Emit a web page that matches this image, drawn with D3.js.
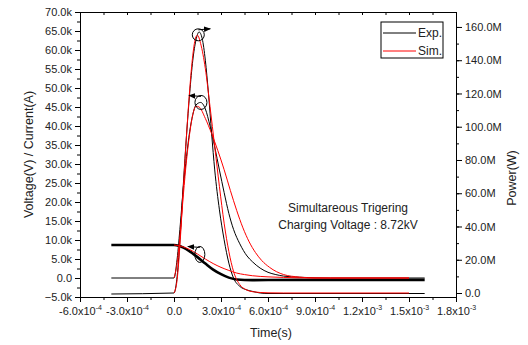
<!DOCTYPE html>
<html>
<head>
<meta charset="utf-8">
<script src="https://cdn.jsdelivr.net/npm/d3@7"></script>
<style>
  body { margin: 0; background: #fff; }
  svg { font-family: "Liberation Sans", Arial, sans-serif; }
</style>
</head>
<body>
<script>
// 时间单位 1e-4 s
const T = 1e-4;

// 电压 (V)
const voltExpT = [-4, 0, 0.3, 0.6, 1.0, 1.5, 2.0, 2.5, 3.0, 3.5, 4.0, 5.0, 8.0, 12, 16];
const voltExpV = [8700, 8700, 8500, 8000, 7000, 5500, 3800, 2200, 1000, 100, -400, -550, -500, -500, -500];
const voltSimT = [0, 0.5, 1.0, 1.5, 2.0, 2.5, 3.0, 3.5, 4.0, 4.5, 5.0, 6.0, 7.0, 8.0, 10, 15];
const voltSimV = [8700, 8300, 7500, 6300, 5000, 3800, 2800, 2000, 1300, 900, 600, 300, 150, 50, 0, 0];

// 电流 (A)
const curExpT = [-4, 0, 0.2, 0.4, 0.6, 0.8, 1.0, 1.2, 1.4, 1.7, 2.0, 2.3, 2.6, 2.9, 3.2, 3.5, 3.8, 4.2, 4.66, 5.0, 5.5, 6.0, 6.5, 7.0, 8.0, 9.0, 10, 16];
const curExpV = [0, 0, 5000, 14000, 24000, 32000, 38500, 43000, 45500, 46200, 44500, 40000, 34500, 28400, 22500, 17000, 12800, 9000, 5800, 4300, 2600, 1500, 900, 500, 200, 50, 0, 0];
const curSimT = [0, 0.2, 0.4, 0.6, 0.8, 1.0, 1.2, 1.4, 1.6, 2.0, 2.4, 2.8, 3.2, 3.6, 4.0, 4.4, 4.8, 5.2, 5.6, 6.1, 7.0, 8.0, 9.0, 15];
const curSimV = [0, 4000, 12000, 22000, 31000, 38000, 43000, 45200, 45000, 42000, 38000, 33500, 28500, 23000, 17800, 13200, 9500, 6700, 4600, 2800, 900, 250, 0, 0];

// 功率 (W)
const powExpT = [-4, 0, 0.2, 0.4, 0.6, 0.8, 1.0, 1.2, 1.4, 1.6, 1.8, 2.0, 2.2, 2.4, 2.6, 2.9, 3.2, 3.5, 3.8, 4.2, 4.6, 5.0, 5.5, 6.0, 16];
const powExpP = [-0.6, 0, 10, 35, 66, 95, 120, 140, 152, 157, 153, 140, 120, 96, 74, 50, 32, 18, 9, 4, 2, 1, 0, -0.3, -0.3].map(v => v * 1e6);
const powSimT = [0, 0.2, 0.4, 0.6, 0.8, 1.0, 1.2, 1.4, 1.5, 1.7, 2.0, 2.3, 2.6, 2.9, 3.2, 3.5, 3.8, 4.2, 4.6, 5.0, 6.0, 7.0, 15];
const powSimP = [0, 8, 32, 64, 95, 122, 143, 154, 155, 150, 135, 112, 88, 64, 42, 25, 13, 5, 2, 0.8, 0.1, 0, 0].map(v => v * 1e6);

const width = 528, height = 345;
const pLeft = 80, pRight = 456, pTop = 12, pBottom = 297;

const x = d3.scaleLinear().domain([-6e-4, 1.8e-3]).range([pLeft, pRight]);
const yL = d3.scaleLinear().domain([-5000, 70000]).range([pBottom, pTop]);
const yR = d3.scaleLinear().domain([-2.4e6, 169e6]).range([pBottom, pTop]);

const svg = d3.create("svg")
  .attr("width", width)
  .attr("height", height)
  .attr("viewBox", [0, 0, width, height]);

const zip = (ts, vs) => ts.map((t, i) => [t * T, vs[i]]);

const series = [
  { d: zip(voltExpT, voltExpV), y: yL, color: "#000", w: 2.6 },
  { d: zip(curExpT, curExpV), y: yL, color: "#000", w: 1 },
  { d: zip(powExpT, powExpP), y: yR, color: "#000", w: 1 },
  { d: zip(voltSimT, voltSimV), y: yL, color: "#ff0000", w: 1 },
  { d: zip(curSimT, curSimV), y: yL, color: "#ff0000", w: 1 },
  { d: zip(powSimT, powSimP), y: yR, color: "#ff0000", w: 1 }
];

svg.append("g")
  .attr("fill", "none")
  .selectAll("path")
  .data(series)
  .join("path")
  .attr("stroke", s => s.color)
  .attr("stroke-width", s => s.w)
  .attr("d", s => d3.line().curve(d3.curveMonotoneX)
    .x(p => x(p[0]))
    .y(p => s.y(p[1]))(s.d));

// 坐标轴
const fmtK = v => v === 0 ? "0.0" : d3.format(".1f")(v / 1000) + "k";
const fmtM = v => v === 0 ? "0.0" : d3.format(".1f")(v / 1e6) + "M";

const xMajor = d3.range(-6, 19, 3).map(v => v * T);
const xMinor = d3.range(-6, 18.1, 1.5).map(v => v * T);
const lMajor = d3.range(-5000, 70001, 5000);
const lMinor = d3.range(-5000, 70001, 2500);
const rMajor = d3.range(0, 160e6 + 1, 20e6);
const rMinor = d3.range(0, 169e6, 10e6);

const axisStyle = g => {
  g.selectAll(".domain").attr("stroke", "#000");
  g.selectAll("line").attr("stroke", "#000");
  g.selectAll("text").attr("fill", "#222").attr("font-size", 11);
};

// 底部
svg.append("g")
  .attr("transform", `translate(0,${pBottom})`)
  .call(d3.axisBottom(x).tickValues(xMinor).tickSize(3).tickFormat(""))
  .call(axisStyle);
const xa = svg.append("g")
  .attr("transform", `translate(0,${pBottom})`)
  .call(d3.axisBottom(x).tickValues(xMajor).tickSize(5).tickSizeOuter(0).tickPadding(5))
  .call(axisStyle);
xa.selectAll(".tick text").each(function(v) {
  const t = d3.select(this).text("");
  if (Math.abs(v) < 1e-12) { t.text("0.0"); return; }
  const e = Math.floor(Math.log10(Math.abs(v)) + 1e-9);
  const m = v / Math.pow(10, e);
  t.append("tspan").text(m.toFixed(1) + "x10");
  t.append("tspan").attr("dy", -5).attr("font-size", 7).text(String(e));
});

// 顶部
svg.append("g")
  .attr("transform", `translate(0,${pTop})`)
  .call(d3.axisTop(x).tickValues(xMinor).tickSize(-3).tickFormat("").tickSizeOuter(0))
  .call(axisStyle);

// 左侧
svg.append("g")
  .attr("transform", `translate(${pLeft},0)`)
  .call(d3.axisLeft(yL).tickValues(lMinor).tickSize(3).tickFormat(""))
  .call(axisStyle);
svg.append("g")
  .attr("transform", `translate(${pLeft},0)`)
  .call(d3.axisLeft(yL).tickValues(lMajor).tickSize(5).tickSizeOuter(0).tickFormat(fmtK).tickPadding(3))
  .call(axisStyle);

// 右侧
svg.append("g")
  .attr("transform", `translate(${pRight},0)`)
  .call(d3.axisRight(yR).tickValues(rMinor).tickSize(3).tickFormat("").tickSizeOuter(0))
  .call(axisStyle);
svg.append("g")
  .attr("transform", `translate(${pRight},0)`)
  .call(d3.axisRight(yR).tickValues(rMajor).tickSize(6).tickSizeOuter(0).tickFormat(fmtM).tickPadding(3))
  .call(axisStyle);

// 轴标题
svg.append("text")
  .attr("x", (pLeft + pRight) / 2 + 3).attr("y", 337)
  .attr("text-anchor", "middle").attr("font-size", 12.5).attr("fill", "#222")
  .text("Time(s)");
svg.append("text")
  .attr("transform", `translate(33,${(pTop + pBottom) / 2}) rotate(-90)`)
  .attr("text-anchor", "middle").attr("font-size", 12.5).attr("fill", "#222")
  .text("Voltage(V) / Current(A)");
svg.append("text")
  .attr("transform", `translate(516,178) rotate(-90)`)
  .attr("text-anchor", "middle").attr("font-size", 12.5).attr("fill", "#222")
  .text("Power(W)");

// 注释文字
const note = svg.append("text")
  .attr("text-anchor", "middle").attr("font-size", 12).attr("fill", "#222");
note.append("tspan").attr("x", 348).attr("y", 212).text("Simultareous Trigering");
note.append("tspan").attr("x", 348).attr("y", 229).text("Charging Voltage : 8.72kV");

// 圈与箭头（数据坐标）
svg.append("defs").append("marker")
  .attr("id", "arr").attr("viewBox", "0 0 10 10").attr("refX", 9).attr("refY", 5)
  .attr("markerWidth", 7).attr("markerHeight", 7).attr("orient", "auto")
  .append("path").attr("d", "M0,1L10,5L0,9Z").attr("fill", "#000");

const notes = [
  { t: 1.55, v: 64000, rx: 6, ry: 6, dir: 1 },
  { t: 1.72, v: 46200, rx: 6, ry: 7, dir: -1 },
  { t: 1.65, v: 6200, rx: 5, ry: 8, dir: -1 }
];
const ann = svg.append("g").attr("fill", "none").attr("stroke", "#000").attr("stroke-width", 1);
notes.forEach(n => {
  const cx = x(n.t * T), cy = yL(n.v);
  ann.append("ellipse").attr("cx", cx).attr("cy", cy).attr("rx", n.rx).attr("ry", n.ry);
  const y0 = cy - n.ry + 1;
  ann.append("line")
    .attr("x1", cx).attr("y1", y0)
    .attr("x2", cx + n.dir * 12).attr("y2", y0 - 1)
    .attr("marker-end", "url(#arr)");
});

// 图例
const lg = svg.append("g").attr("transform", "translate(381,22)");
lg.append("rect").attr("width", 62).attr("height", 36).attr("fill", "#fff").attr("stroke", "#000");
[["Exp.", "#000"], ["Sim.", "#ff0000"]].forEach(([name, c], i) => {
  const yy = 11 + i * 18;
  lg.append("line").attr("x1", 2).attr("x2", 35).attr("y1", yy).attr("y2", yy).attr("stroke", c);
  lg.append("text").attr("x", 37).attr("y", yy + 4).attr("font-size", 12).attr("fill", "#222").text(name);
});

d3.select("body").append(() => svg.node());
</script>
</body>
</html>
